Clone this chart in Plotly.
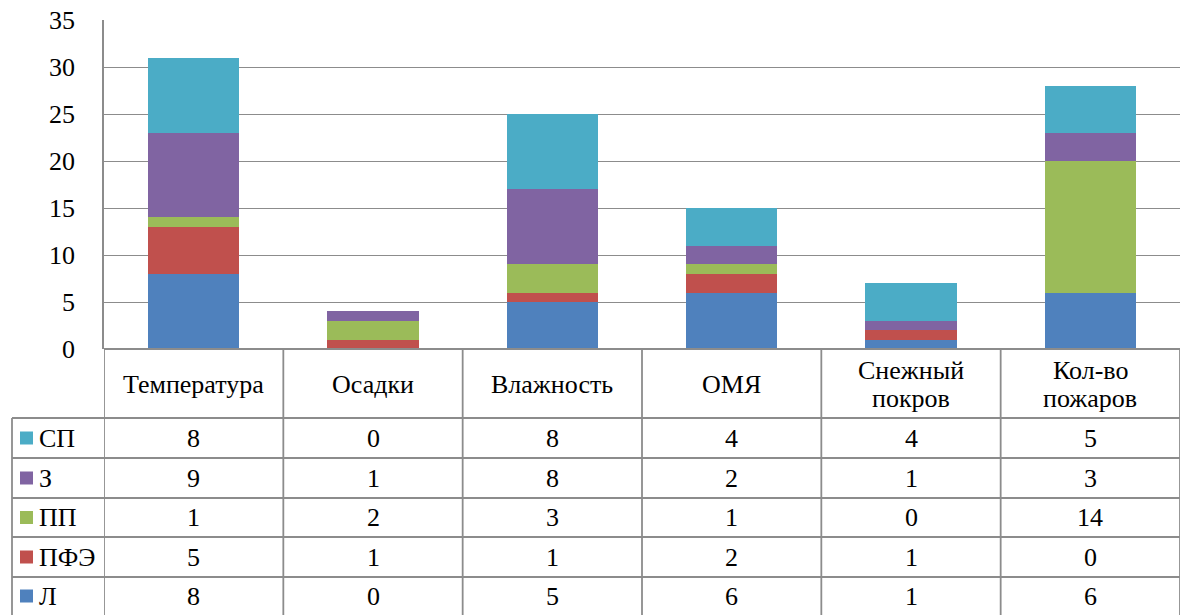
import plotly.graph_objects as go

W, H = 1181, 615

categories = ["Температура", "Осадки", "Влажность", "ОМЯ", "Снежный покров", "Кол-во пожаров"]
category_lines = [["Температура"], ["Осадки"], ["Влажность"], ["ОМЯ"], ["Снежный", "покров"], ["Кол-во", "пожаров"]]
series_names = ["Л", "ПФЭ", "ПП", "З", "СП"]
L_vals = [8, 0, 5, 6, 1, 6]
PFE_vals = [5, 1, 1, 2, 1, 0]
PP_vals = [1, 2, 3, 1, 0, 14]
Z_vals = [9, 1, 8, 2, 1, 3]
SP_vals = [8, 0, 8, 4, 4, 5]
y_ticks = [0, 5, 10, 15, 20, 25, 30, 35]

series_values = [L_vals, PFE_vals, PP_vals, Z_vals, SP_vals]
colors = ["#4F81BD", "#C0504D", "#9BBB59", "#8064A2", "#4BACC6"]

FONT = "Liberation Serif"
FS = 26
GRID = "#8C8C8C"

def px(x):
    return x / W

def py(y):
    return 1 - y / H

fig = go.Figure()
xs = list(range(len(categories)))
for name, vals, col in zip(series_names, series_values, colors):
    fig.add_trace(go.Bar(x=xs, y=vals, name=name, marker=dict(color=col, line=dict(width=0))))

plot_left, plot_right = 104, 1180
plot_top, plot_bottom = 20, 349

fig.update_layout(
    width=W, height=H,
    barmode="stack", bargap=0.49,
    margin=dict(l=0, r=0, t=0, b=0, pad=0),
    paper_bgcolor="white", plot_bgcolor="white",
    showlegend=False,
    font=dict(family=FONT, size=FS, color="black"),
    xaxis=dict(domain=[px(plot_left), px(plot_right)], range=[-0.5, len(categories) - 0.5],
               showticklabels=False, showgrid=False, zeroline=False, showline=False, fixedrange=True,
               automargin=False),
    yaxis=dict(domain=[py(plot_bottom), py(plot_top)], range=[0, 35], tickvals=y_ticks,
               showgrid=True, gridcolor=GRID, gridwidth=1.2, zeroline=False,
               showline=True, linecolor=GRID, linewidth=1.5,
               ticks="", ticklabelstandoff=22, automargin=False,
               tickfont=dict(family=FONT, size=FS, color="black"), fixedrange=True),
)

shapes = []
row_lines = [418, 458, 498, 537, 577, 615]
leg_left = 12
LW = 1.8
shapes.append(dict(type="line", xref="paper", yref="paper", x0=px(plot_left), x1=px(plot_right),
                   y0=py(plot_bottom), y1=py(plot_bottom), line=dict(color=GRID, width=LW)))
for yl in row_lines[:-1]:
    shapes.append(dict(type="line", xref="paper", yref="paper", x0=px(leg_left), x1=px(plot_right),
                       y0=py(yl), y1=py(yl), line=dict(color=GRID, width=LW)))
shapes.append(dict(type="line", xref="paper", yref="paper", x0=px(leg_left), x1=px(leg_left),
                   y0=py(row_lines[0]), y1=0, line=dict(color=GRID, width=LW)))
for k in range(len(categories) + 1):
    shapes.append(dict(type="line", xref="x", yref="paper", x0=k - 0.5, x1=k - 0.5,
                       y0=py(plot_bottom), y1=0, line=dict(color=GRID, width=LW)))

annotations = []
cat_mid = (plot_bottom + row_lines[0]) / 2 + 1
line_gap = 28
for i, lines in enumerate(category_lines):
    n = len(lines)
    for j, txt in enumerate(lines):
        yc = cat_mid + (j - (n - 1) / 2) * line_gap
        ann = dict(x=i, y=py(yc), xref="x", yref="paper", text=txt, showarrow=False,
                   font=dict(family=FONT, size=FS, color="black"),
                   xanchor="center", yanchor="middle", borderpad=0)
        if n > 1:
            ann["height"] = line_gap - 1
            ann["valign"] = "middle"
        annotations.append(ann)

order = list(range(len(series_names)))[::-1]
for r, si in enumerate(order):
    y0, y1 = row_lines[r], row_lines[r + 1]
    ym = (y0 + y1) / 2
    shapes.append(dict(type="rect", xref="paper", yref="paper", x0=px(20), x1=px(33),
                       y0=py(ym - 6.5), y1=py(ym + 6.5), fillcolor=colors[si], line=dict(width=0)))
    annotations.append(dict(x=px(37), y=py(ym), xref="paper", yref="paper", text=series_names[si],
                            showarrow=False, xanchor="left", yanchor="middle",
                            font=dict(family=FONT, size=FS, color="black")))
    for i, v in enumerate(series_values[si]):
        annotations.append(dict(x=i, y=py(ym), xref="x", yref="paper", text=str(v), showarrow=False,
                                xanchor="center", yanchor="middle",
                                font=dict(family=FONT, size=FS, color="black")))

fig.update_layout(shapes=shapes, annotations=annotations)

post = ("document.documentElement.style.margin='0';document.documentElement.style.padding='0';"
        "document.documentElement.style.overflow='hidden';"
        "document.body.style.margin='0';document.body.style.padding='0';document.body.style.overflow='hidden';")
fig.write_html("out.html", post_script=post, config={"displayModeBar": False})
